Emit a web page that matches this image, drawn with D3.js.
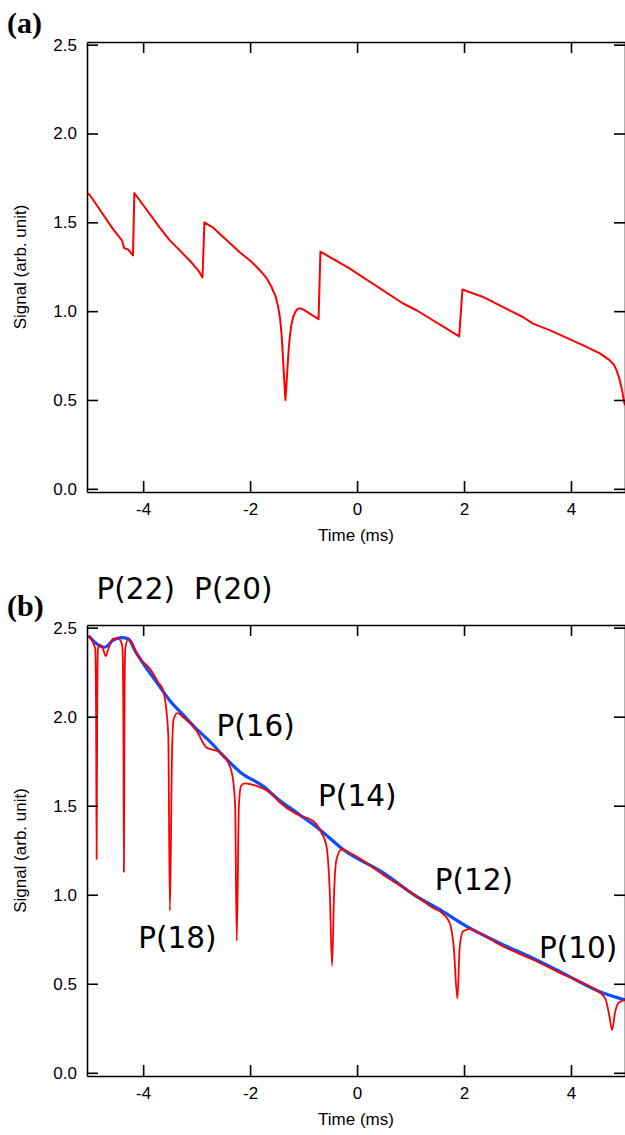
<!DOCTYPE html>
<html lang="en">
<head>
  <meta charset="UTF-8">
  <title>Signal vs time</title>
  <script src="https://d3js.org/d3.v7.min.js"></script>
  <style>
    * {
      margin: 0;
      padding: 0;
      box-sizing: border-box;
    }
    body {
      background: white;
      font-family: "Liberation Sans", Arial, sans-serif;
    }
    .tick text {
      font-family: "Liberation Sans", Arial, sans-serif;
      font-size: 17px;
      fill: black;
    }
  </style>
</head>
<body>
  <div id="chart"></div>
  <script>
    // tick values shared by both panels
    const timeTicks = [-4, -2, 0, 2, 4];
    const signalTicks = [0, 0.5, 1.0, 1.5, 2.0, 2.5];

    // panel (a): single red trace
    const timeA = [-5.05, -5.00, -4.56, -4.40, -4.355, -4.28, -4.19, -4.165, -3.69, -3.505, -3.13, -2.97, -2.89,
      -2.855, -2.69, -2.19, -2.006, -1.88, -1.757, -1.68, -1.60, -1.52, -1.476, -1.44, -1.413, -1.383, -1.36, -1.34,
      -1.32, -1.30, -1.28, -1.258, -1.23, -1.196, -1.15, -1.103, -1.06, -1.01, -0.72, -0.685, -0.136, 0.86, 1.11,
      1.91, 1.97, 2.355, 3.10, 3.29, 3.60, 4.22, 4.54, 4.72, 4.80, 4.85, 4.90, 4.94, 4.965, 4.985, 5.01];
    const signalA = [1.665, 1.655, 1.46, 1.40, 1.355, 1.347, 1.314, 1.665, 1.47, 1.40, 1.285, 1.23, 1.19,
      1.50, 1.47, 1.33, 1.286, 1.25, 1.21, 1.18, 1.136, 1.08, 1.024, 0.96, 0.874, 0.724, 0.60, 0.50,
      0.59, 0.687, 0.78, 0.855, 0.92, 0.967, 0.998, 1.015, 1.015, 1.01, 0.955, 1.335, 1.239, 1.043, 1.005,
      0.858, 1.122, 1.08, 0.967, 0.93, 0.893, 0.809, 0.762, 0.724, 0.70, 0.668, 0.625, 0.575, 0.54, 0.50, 0.47];

    // panel (b): blue baseline trace
    const timeBlue = [-5.02, -4.87, -4.72, -4.56, -4.40, -4.28, -4.15, -4.00, -3.75, -3.50, -3.25, -3.00, -2.75,
      -2.50, -2.19, -1.76, -1.45, -1.10, -0.70, -0.26, 0.49, 1.11, 1.55, 2.05, 2.67, 3.29, 3.91, 4.54, 5.01];
    const signalBlue = [2.455, 2.41, 2.39, 2.43, 2.444, 2.438, 2.37, 2.30, 2.194, 2.09, 2.01, 1.93, 1.86,
      1.78, 1.69, 1.61, 1.53, 1.455, 1.367, 1.254, 1.123, 0.991, 0.916, 0.822, 0.728, 0.644, 0.55, 0.455, 0.409];

    // panel (b): red trace with absorption dips
    const timeRed = [-5.02, -4.915, -4.895, -4.88, -4.87, -4.86, -4.845, -4.81, -4.75, -4.70, -4.65, -4.56, -4.47,
      -4.40, -4.385, -4.37, -4.36, -4.35, -4.335, -4.28, -4.22, -4.12, -4.03, -3.875, -3.72, -3.626, -3.576, -3.53,
      -3.50, -3.46, -3.43, -3.36, -3.25, -3.00, -2.815, -2.566, -2.41, -2.33, -2.28, -2.25, -2.21, -2.17, -2.10,
      -1.88, -1.63, -1.445, -1.13, -0.82, -0.665, -0.572, -0.51, -0.467, -0.43, -0.385, -0.29, -0.075, 0.486, 1.11,
      1.42, 1.607, 1.733, 1.807, 1.876, 1.92, 1.98, 2.107, 2.29, 2.667, 3.29, 3.91, 4.41, 4.56, 4.65, 4.72, 4.77,
      4.82, 4.89, 5.01];
    const signalRed = [2.455, 2.40, 2.38, 2.0, 1.20, 2.0, 2.38, 2.404, 2.38, 2.34, 2.38, 2.438, 2.44,
      2.41, 2.37, 2.0, 1.128, 2.0, 2.38, 2.434, 2.42, 2.353, 2.316, 2.27, 2.194, 2.147, 2.062, 1.89,
      0.91, 1.80, 1.987, 2.02, 1.997, 1.92, 1.827, 1.80, 1.743, 1.667, 1.498, 0.741, 1.50, 1.611, 1.626,
      1.611, 1.574, 1.518, 1.452, 1.414, 1.348, 1.273, 1.01, 0.60, 1.01, 1.198, 1.254, 1.226, 1.113, 0.991,
      0.926, 0.893, 0.841, 0.709, 0.418, 0.71, 0.794, 0.807, 0.785, 0.719, 0.635, 0.545, 0.476, 0.446, 0.41, 0.315, 0.24,
      0.334, 0.393, 0.41];

    // line assignments printed on panel (b), anchored at (time, signal) of text start
    const peakNames = ["P(22)", "P(20)", "P(16)", "P(18)", "P(14)", "P(12)", "P(10)"];
    const peakTime = [-4.871, -3.047, -2.628, -4.093, -0.729, 1.452, 3.402];
    const peakSignal = [2.66, 2.66, 1.893, 0.70, 1.498, 1.029, 0.644];

    const W = 625, H = 1135;
    const svg = d3.select("#chart")
      .append("svg")
      .attr("width", W)
      .attr("height", H);

    function drawPanel(opt) {
      const x = d3.scaleLinear().domain([-5.05, 5.01]).range([87, 625]);
      const y = d3.scaleLinear().domain([-0.018, 2.515]).range([opt.bottom, opt.top]);

      const g = svg.append("g");

      g.append("clipPath")
        .attr("id", "clip-" + opt.id)
        .append("rect")
        .attr("x", 87).attr("y", opt.top)
        .attr("width", 538).attr("height", opt.bottom - opt.top);

      opt.series.forEach(s => {
        const line = d3.line()
          .x(d => x(d[0]))
          .y(d => y(d[1]))
          .curve(s.curve);
        g.append("path")
          .datum(d3.zip(s.t, s.v))
          .attr("clip-path", `url(#clip-${opt.id})`)
          .attr("fill", "none")
          .attr("stroke", s.color)
          .attr("stroke-width", s.width)
          .attr("stroke-linejoin", "round")
          .attr("d", line);
      });

      // axes, ticks pointing inward on all four sides
      const styleAxis = a => {
        a.selectAll("path, line").attr("stroke", "black").attr("stroke-width", 1.6);
      };

      g.append("g")
        .attr("transform", `translate(87,0)`)
        .call(d3.axisLeft(y).tickValues(signalTicks).tickSizeInner(-11).tickSizeOuter(0)
          .tickPadding(10).tickFormat(d => d.toFixed(1)))
        .call(styleAxis);

      g.append("g")
        .attr("transform", `translate(625,0)`)
        .call(d3.axisRight(y).tickValues(signalTicks).tickSizeInner(-11).tickSizeOuter(0).tickFormat(""))
        .call(styleAxis);

      g.append("g")
        .attr("transform", `translate(0,${opt.bottom})`)
        .call(d3.axisBottom(x).tickValues(timeTicks).tickSizeInner(-11).tickSizeOuter(0).tickPadding(11)
          .tickFormat(d => String(d)))
        .call(styleAxis);

      g.append("g")
        .attr("transform", `translate(0,${opt.top})`)
        .call(d3.axisTop(x).tickValues(timeTicks).tickSizeInner(-11).tickSizeOuter(0).tickFormat(""))
        .call(styleAxis);

      g.append("text")
        .attr("x", 356)
        .attr("y", opt.bottom + 49)
        .attr("text-anchor", "middle")
        .style("font-size", "17px")
        .text("Time (ms)");

      g.append("text")
        .attr("transform", `translate(26,${(opt.top + opt.bottom) / 2}) rotate(-90)`)
        .attr("text-anchor", "middle")
        .style("font-size", "17px")
        .text("Signal (arb. unit)");

      g.append("text")
        .attr("x", 7)
        .attr("y", opt.top - 9)
        .style("font-family", "'Liberation Serif', 'Times New Roman', serif")
        .style("font-weight", "bold")
        .style("font-size", "30px")
        .text(opt.tag);

      return { x, y, g };
    }

    drawPanel({
      id: "a", tag: "(a)", top: 42, bottom: 492,
      series: [{ t: timeA, v: signalA, color: "#ff0000", width: 2, curve: d3.curveLinear }]
    });

    const pb = drawPanel({
      id: "b", tag: "(b)", top: 625, bottom: 1076,
      series: [
        { t: timeBlue, v: signalBlue, color: "#0a4cff", width: 3.2, curve: d3.curveMonotoneX },
        { t: timeRed, v: signalRed, color: "#ff0000", width: 1.8, curve: d3.curveMonotoneX }
      ]
    });

    pb.g.selectAll(".peak")
      .data(peakNames)
      .enter()
      .append("text")
      .attr("class", "peak")
      .attr("x", (d, i) => pb.x(peakTime[i]))
      .attr("y", (d, i) => pb.y(peakSignal[i]))
      .style("font-family", "'DejaVu Sans', sans-serif")
      .style("font-size", "29.5px")
      .text(d => d);
  </script>
</body>
</html>
